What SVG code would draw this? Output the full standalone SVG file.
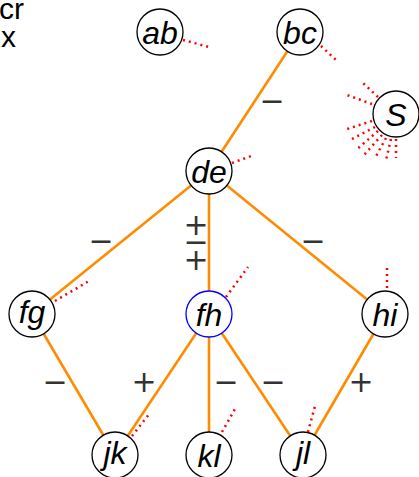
<svg xmlns="http://www.w3.org/2000/svg" width="419" height="477" viewBox="0 0 419 477">
<style>
.n circle{fill:#fff;stroke:#000;stroke-width:1.3}
.n text{font-family:"Liberation Sans",Arial,sans-serif;font-style:italic;font-size:32px;text-anchor:middle;fill:#000}
.e line{stroke:#ff8c00;stroke-width:2.6}
.d line{stroke:#ff0000;stroke-width:2.5;stroke-dasharray:2 4}
.s{font-family:"DejaVu Sans",sans-serif;font-size:30px;text-anchor:middle;fill:#333}
.t{font-family:"Liberation Sans",Arial,sans-serif;font-size:30px;fill:#000}
</style>
<text class="t" x="-1" y="19">cr<tspan x="1" dy="28">x</tspan></text>
<g id="connectors" class="e">
<line x1="300" y1="32" x2="209" y2="171"/>
<line x1="209" y1="171" x2="32" y2="314"/>
<line x1="209" y1="171" x2="209" y2="314"/>
<line x1="209" y1="171" x2="385" y2="314"/>
<line x1="32" y1="314" x2="115" y2="455"/>
<line x1="209" y1="314" x2="115" y2="455"/>
<line x1="209" y1="314" x2="209" y2="455"/>
<line x1="209" y1="314" x2="303" y2="455"/>
<line x1="385" y1="314" x2="303" y2="455"/>
</g>
<g id="signs">
<text class="s" x="272" y="111">−</text>
<text class="s" x="101" y="251">−</text>
<text class="s" x="313" y="251">−</text>
<text class="s" x="196" y="235">+<tspan x="196" dy="17">−</tspan><tspan x="196" dy="18">+</tspan></text>
<text class="s" x="55" y="392">−</text>
<text class="s" x="144" y="392">+</text>
<text class="s" x="226" y="392">−</text>
<text class="s" x="273" y="392">−</text>
<text class="s" x="361" y="392">+</text>
</g>
<g id="ab" class="n"><circle cx="160" cy="32" r="23"/><text x="160" y="44">ab</text></g>
<g id="bc" class="n"><circle cx="300" cy="32" r="23"/><text x="300" y="44">bc</text></g>
<g id="S" class="n"><circle cx="396" cy="114" r="23"/><text x="396" y="126">S</text></g>
<g id="de" class="n"><circle cx="209" cy="171" r="23"/><text x="209" y="183">de</text></g>
<g id="fg" class="n"><circle cx="32" cy="314" r="23"/><text x="32" y="323">fg</text></g>
<g id="fh" class="n"><circle cx="209" cy="314" r="23" style="stroke:#0000ff"/><text x="209" y="326">fh</text></g>
<g id="hi" class="n"><circle cx="385" cy="314" r="23"/><text x="385" y="326">hi</text></g>
<g id="jk" class="n"><circle cx="115" cy="455" r="23"/><text x="115" y="464">jk</text></g>
<g id="kl" class="n"><circle cx="209" cy="455" r="23"/><text x="209" y="467">kl</text></g>
<g id="jl" class="n"><circle cx="303" cy="455" r="23"/><text x="303" y="464">jl</text></g>
<g id="marks" class="d">
<line x1="183" y1="40" x2="209" y2="47"/>
<line x1="321" y1="46" x2="336" y2="60"/>
<line x1="232" y1="163" x2="254" y2="155"/>
<line x1="55" y1="301" x2="89" y2="281"/>
<line x1="226" y1="297" x2="248" y2="267"/>
<line x1="387" y1="288" x2="387" y2="266"/>
<line x1="132" y1="436" x2="150" y2="413"/>
<line x1="222" y1="432" x2="236" y2="407"/>
<line x1="308" y1="432" x2="315" y2="406"/>
<line x1="372" y1="104" x2="344" y2="94"/>
<line x1="378" y1="97" x2="363" y2="83"/>
<line x1="372" y1="121" x2="344" y2="130"/>
<line x1="375" y1="127" x2="350" y2="140"/>
<line x1="378" y1="131" x2="356" y2="150"/>
<line x1="382" y1="135" x2="364" y2="155"/>
<line x1="386" y1="138" x2="375" y2="158"/>
<line x1="391" y1="139" x2="386" y2="160"/>
<line x1="396" y1="139" x2="396" y2="158"/>
</g>
</svg>
